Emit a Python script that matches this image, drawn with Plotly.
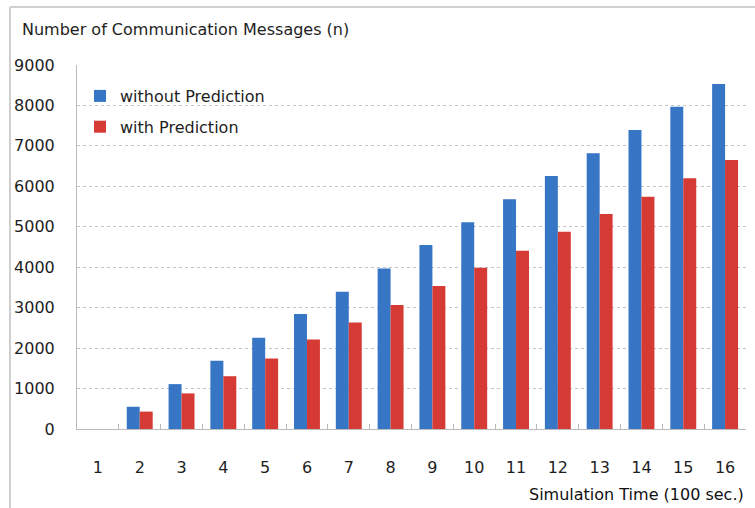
import plotly.graph_objects as go

categories = [str(i) for i in range(1, 17)]
without_pred = [0, 550, 1110, 1690, 2255, 2845, 3395, 3970, 4550, 5110, 5680, 6255, 6815, 7390, 7970, 8530]
with_pred = [0, 430, 880, 1305, 1745, 2215, 2635, 3065, 3535, 3990, 4410, 4880, 5315, 5745, 6200, 6650]
y_ticks = [0, 1000, 2000, 3000, 4000, 5000, 6000, 7000, 8000, 9000]

W, H = 755, 508
L, R, T, B = 77, 9, 65, 79
pw, ph = W - L - R, H - T - B

def px(x):
    return (x - L) / pw

def py(y):
    return 1 - (y - T) / ph

FONT = "DejaVu Sans, Liberation Sans, Arial, sans-serif"
TXT = "#1e1e1e"

fig = go.Figure()
fig.add_trace(go.Bar(
    x=categories, y=without_pred, name="without Prediction", legendgroup="a",
    marker=dict(color="#3775C5", line=dict(width=0)),
))
fig.add_trace(go.Bar(
    x=categories, y=with_pred, name="with Prediction", legendgroup="b",
    marker=dict(color="#D63A35", line=dict(width=0)),
))

fig.update_layout(
    width=W, height=H,
    margin=dict(l=L, r=R, t=T, b=B),
    paper_bgcolor="white", plot_bgcolor="white",
    barmode="group", bargap=0.38, bargroupgap=0,
    font=dict(family=FONT, size=16, color=TXT),
    showlegend=True,
    legend=dict(
        x=px(80), y=py(79), xanchor="left", yanchor="top",
        bgcolor="rgba(0,0,0,0)", font=dict(size=16, color=TXT),
        itemwidth=30, tracegroupgap=7,
    ),
    xaxis=dict(
        type="category", tickson="boundaries", ticks="inside", ticklen=5,
        tickcolor="#bbb", showline=True, linecolor="#bbb", linewidth=1,
        showgrid=False, ticklabelstandoff=24,
        tickfont=dict(size=16, color=TXT),
    ),
    yaxis=dict(
        range=[0, 9000], tickvals=y_ticks, showline=True, linecolor="#bbb",
        linewidth=1, ticks="", showgrid=True, gridcolor="#c4c4c4", griddash="dot",
        gridwidth=1, zeroline=False, ticklabelstandoff=18,
        tickfont=dict(size=16, color=TXT),
    ),
    annotations=[
        dict(text="Number of Communication Messages (n)", xref="paper", yref="paper",
             x=px(20), y=py(30), xanchor="left", yanchor="middle", showarrow=False,
             font=dict(size=16, color=TXT)),
        dict(text="Simulation Time (100 sec.)", xref="paper", yref="paper",
             x=px(746), y=py(494), xanchor="right", yanchor="middle", showarrow=False,
             font=dict(size=16, color="#111")),
    ],
    shapes=[
        dict(type="line", xref="paper", yref="paper", x0=px(10), x1=px(760), y0=py(7), y1=py(7),
             line=dict(color="#cfcfcf", width=2)),
        dict(type="line", xref="paper", yref="paper", x0=px(10), x1=px(10), y0=py(7), y1=py(515),
             line=dict(color="#cfcfcf", width=2)),
    ],
)

fig.write_html("out.html", config={"displayModeBar": False},
               post_script="document.body.style.margin='0';document.body.style.padding='0';")
